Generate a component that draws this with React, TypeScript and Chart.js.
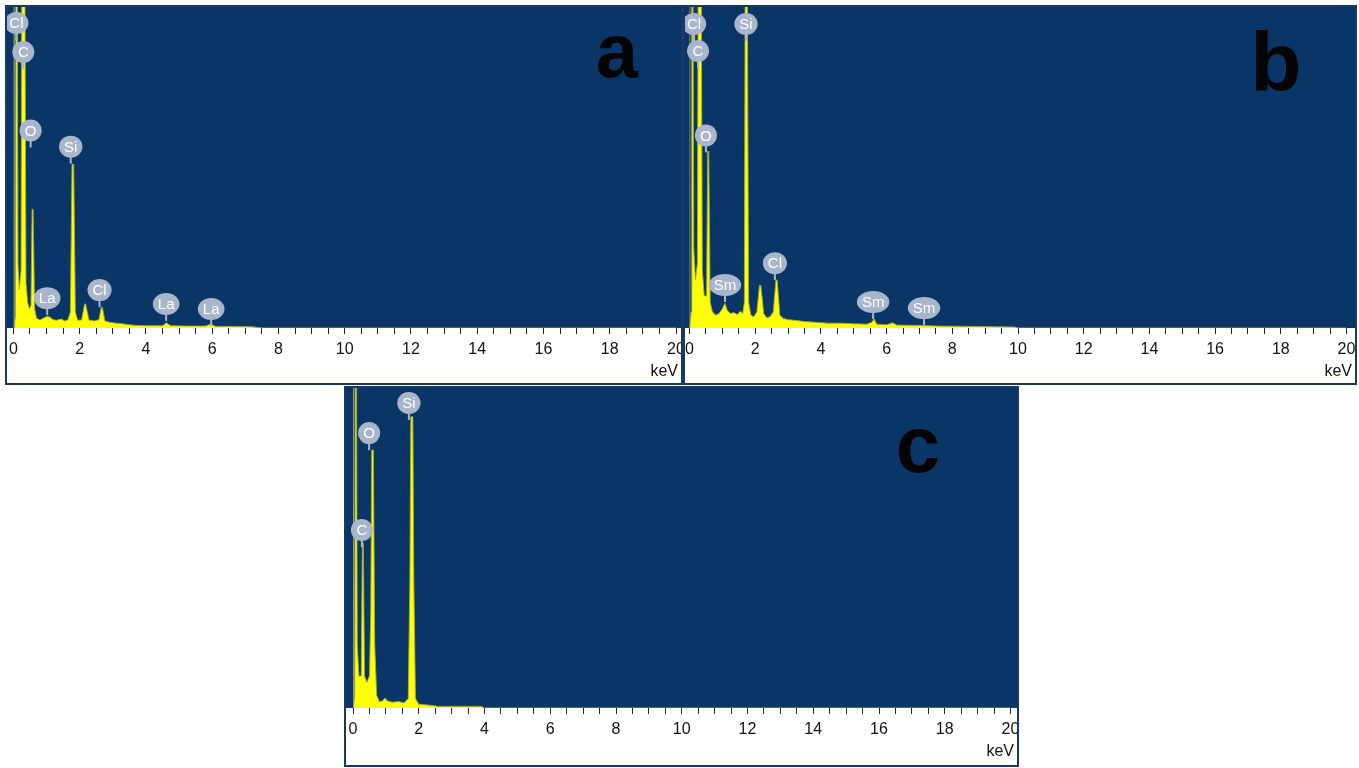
import React, { useEffect, useRef } from "react";
import { Chart, registerables } from "chart.js";

Chart.register(...registerables);

// ---------- data ----------
const tickLabels = ["0", "2", "4", "6", "8", "10", "12", "14", "16", "18", "20"];
const axisUnit = "keV";

// Panel a
const aEnergy = [0, 0.02, 0.06, 0.08, 0.11, 0.14, 0.18, 0.23, 0.26, 0.34, 0.38, 0.43, 0.48, 0.53, 0.565, 0.595, 0.64, 0.7, 0.8, 0.9, 1.0, 1.1, 1.2, 1.3, 1.45, 1.55, 1.65, 1.72, 1.77, 1.82, 1.87, 1.94, 2.06, 2.15, 2.18, 2.28, 2.45, 2.58, 2.655, 2.685, 2.76, 2.9, 3.1, 3.3, 3.5, 3.7, 4.0, 4.5, 4.62, 4.75, 5.2, 5.8, 5.95, 6.1, 6.5, 7.2, 7.5, 20];
const aCounts = [0, 0, 4, 130, 130, 20, 12, 18, 130, 130, 14, 8, 6, 7, 37, 37, 6, 3, 2.5, 3, 3.6, 3.4, 2.6, 2.4, 2.8, 2.2, 2.6, 5, 51, 51, 5, 2.4, 2.5, 7.5, 7.5, 2.5, 2.2, 2.6, 6.5, 6.5, 2.2, 1.8, 1.5, 1.3, 1.0, 0.8, 0.7, 0.7, 1.6, 0.7, 0.6, 0.6, 1.2, 0.5, 0.5, 0.4, 0, 0];
const aZeroEnergy = [0.02, 0.02];
const aZeroCounts = [0, 130];
const aLabelNames = ["Cl", "C", "O", "Si", "La", "Cl", "La", "La"];
const aLabelEnergy = [0.09, 0.3, 0.52, 1.73, 1.02, 2.6, 4.61, 5.97];
const aLabelHeight = [95, 86, 61.5, 56.5, 9.3, 11.8, 7.5, 5.9];

// Panel b
const bEnergy = [0, 0.05, 0.07, 0.1, 0.13, 0.18, 0.24, 0.27, 0.35, 0.39, 0.45, 0.52, 0.555, 0.585, 0.63, 0.7, 0.8, 0.9, 1.0, 1.08, 1.15, 1.25, 1.35, 1.45, 1.55, 1.62, 1.67, 1.7, 1.75, 1.8, 1.87, 1.95, 2.05, 2.13, 2.17, 2.26, 2.35, 2.45, 2.55, 2.63, 2.67, 2.75, 2.85, 3.0, 3.2, 3.5, 3.8, 4.2, 4.6, 5.0, 5.4, 5.55, 5.62, 5.7, 6.0, 6.19, 6.3, 7.0, 7.5, 8.5, 9.9, 10.0, 20];
const bCounts = [0, 5, 130, 130, 25, 15, 20, 130, 130, 18, 10, 10, 55, 55, 8, 5, 4, 4.5, 6, 7.7, 5.5, 4.5, 4.8, 4.2, 5.2, 4.5, 8, 130, 130, 8, 4, 3.5, 5, 13.3, 13.3, 4.5, 3.2, 3.5, 5, 14.9, 14.9, 4, 3, 2.6, 2.4, 2.0, 1.8, 1.5, 1.5, 1.3, 1.2, 1.8, 2.8, 1.2, 1.0, 1.6, 0.9, 0.8, 0.6, 0.5, 0.3, 0, 0];
const bZeroEnergy = [0, 0];
const bZeroCounts = [0, 130];
const bLabelNames = ["Cl", "C", "O", "Si", "Sm", "Cl", "Sm", "Sm"];
const bLabelEnergy = [0.14, 0.26, 0.5, 1.72, 1.08, 2.6, 5.59, 7.14];
const bLabelHeight = [94.7, 86.3, 60, 94.7, 13.4, 20.2, 8.1, 6.2];

// Panel c
const cEnergy = [0, 0.05, 0.07, 0.1, 0.13, 0.18, 0.25, 0.285, 0.315, 0.35, 0.42, 0.5, 0.54, 0.57, 0.62, 0.66, 0.72, 0.8, 0.9, 0.97, 1.05, 1.2, 1.4, 1.55, 1.68, 1.73, 1.76, 1.82, 1.85, 1.9, 2.0, 2.2, 2.4, 2.6, 3.9, 4.0, 20];
const cCounts = [0, 3, 130, 130, 20, 10, 10, 51.5, 51.5, 10, 8, 10, 30, 80.6, 80.6, 20, 4, 2, 2.2, 3.1, 2.2, 1.8, 2, 1.6, 3, 40, 91, 91, 40, 3, 1.2, 1.0, 0.8, 0.5, 0.5, 0, 0];
const cZeroEnergy = [0.01, 0.01];
const cZeroCounts = [0, 130];
const cLabelNames = ["C", "O", "Si"];
const cLabelEnergy = [0.27, 0.49, 1.7];
const cLabelHeight = [55.6, 85.9, 95.3];

// ---------- styles ----------
const BLUE = "#0a3567";
const FRAME = "#183866";
const YELLOW = "#ffff00";
const OUTLINE = "rgba(160,170,60,0.9)";
const LABEL_BG = "#a9b5ca";
const FONT = "'Liberation Sans', Arial, sans-serif";

const decorPlugin = {
  id: "decor",
  beforeDraw(chart: any) {
    const { ctx, chartArea, width, height } = chart;
    ctx.save();
    ctx.fillStyle = "#ffffff";
    ctx.fillRect(0, 0, width, height);
    ctx.fillStyle = BLUE;
    ctx.fillRect(0, 0, width, chartArea.bottom);
    ctx.restore();
  },
  afterDatasetsDraw(chart: any, _args: any, opts: any) {
    const { ctx } = chart;
    const xs = chart.scales.x;
    const ys = chart.scales.y;
    ctx.save();
    (opts.names || []).forEach((name: string, i: number) => {
      const px = xs.getPixelForValue(opts.energy[i]);
      const py = ys.getPixelForValue(opts.height[i]);
      ctx.font = `15px ${FONT}`;
      const tw = ctx.measureText(name).width;
      const ry = 11;
      const rx = Math.max(11, tw / 2 + 5);
      ctx.strokeStyle = LABEL_BG;
      ctx.lineWidth = 2;
      ctx.beginPath();
      ctx.moveTo(px, py + ry - 1);
      ctx.lineTo(px, py + ry + 6);
      ctx.stroke();
      ctx.fillStyle = LABEL_BG;
      ctx.beginPath();
      ctx.ellipse(px, py, rx, ry, 0, 0, Math.PI * 2);
      ctx.fill();
      ctx.fillStyle = "#ffffff";
      ctx.textAlign = "center";
      ctx.textBaseline = "middle";
      ctx.fillText(name, px, py + 1);
    });
    ctx.restore();
  },
  afterDraw(chart: any, _args: any, opts: any) {
    const { ctx, chartArea, width } = chart;
    ctx.save();
    ctx.fillStyle = "#111111";
    ctx.font = `16px ${FONT}`;
    ctx.textAlign = "right";
    ctx.textBaseline = "middle";
    ctx.fillText(axisUnit, width - 3, chartArea.bottom + 44);
    if (opts.letter) {
      ctx.fillStyle = "#050505";
      ctx.font = `bold ${opts.letter.size}px ${FONT}`;
      ctx.textAlign = "center";
      ctx.textBaseline = "alphabetic";
      ctx.fillText(opts.letter.text, opts.letter.x, opts.letter.y);
    }
    ctx.restore();
  },
};

type PanelProps = {
  left: number;
  top: number;
  width: number;
  height: number;
  axisHeight: number;
  padLeft: number;
  padRight: number;
  energy: number[];
  counts: number[];
  zeroEnergy: number[];
  zeroCounts: number[];
  names: string[];
  labelEnergy: number[];
  labelHeight: number[];
  letter: { text: string; x: number; y: number; size: number };
};

function Panel(p: PanelProps) {
  const ref = useRef<HTMLCanvasElement | null>(null);
  const cw = p.width - 4;
  const ch = p.height - 4;
  useEffect(() => {
    if (!ref.current) return;
    const spectrum = p.energy.map((e, i) => ({ x: e, y: p.counts[i] }));
    const zero = p.zeroEnergy.map((e, i) => ({ x: e, y: p.zeroCounts[i] }));
    const chart = new Chart(ref.current, {
      type: "line",
      data: {
        datasets: [
          {
            data: zero,
            borderColor: "#8f9a86",
            borderWidth: 1.5,
            pointRadius: 0,
            fill: false,
          },
          {
            data: spectrum,
            borderColor: OUTLINE,
            borderWidth: 1,
            backgroundColor: YELLOW,
            pointRadius: 0,
            tension: 0,
            fill: "origin",
          },
        ],
      },
      options: {
        animation: false,
        responsive: false,
        devicePixelRatio: 1,
        events: [],
        layout: { padding: { left: p.padLeft, right: p.padRight, top: 0, bottom: 0 } },
        plugins: {
          legend: { display: false },
          tooltip: { enabled: false },
          decor: {
            names: p.names,
            energy: p.labelEnergy,
            height: p.labelHeight,
            letter: p.letter,
          },
        } as any,
        scales: {
          x: {
            type: "linear",
            min: 0,
            max: 20,
            afterFit: (scale: any) => {
              scale.height = p.axisHeight;
              scale.paddingLeft = 0;
              scale.paddingRight = 0;
            },
            border: { display: false },
            grid: {
              display: true,
              drawOnChartArea: false,
              drawTicks: true,
              tickLength: 6,
              tickColor: "#222222",
              tickWidth: 1,
            },
            ticks: {
              stepSize: 0.5,
              maxTicksLimit: 100,
              autoSkip: false,
              maxRotation: 0,
              minRotation: 0,
              includeBounds: false,
              padding: 6,
              color: "#111111",
              font: { family: FONT, size: 16 },
              callback: (value: any) => {
                const v = Number(value);
                const lbl = tickLabels.find((t) => Math.abs(Number(t) - v) < 1e-9);
                return lbl ?? "";
              },
            },
          },
          y: {
            type: "linear",
            min: 0,
            max: 100,
            display: false,
          },
        },
      } as any,
      plugins: [decorPlugin as any],
    });
    return () => chart.destroy();
  }, []);
  return (
    <div
      style={{
        position: "absolute",
        left: p.left,
        top: p.top,
        width: p.width,
        height: p.height,
        border: `2px solid ${FRAME}`,
        boxSizing: "border-box",
        background: "#fff",
      }}
    >
      <canvas ref={ref} width={cw} height={ch} style={{ display: "block", width: cw, height: ch }} />
    </div>
  );
}

export default function App() {
  return (
    <div style={{ position: "absolute", left: 0, top: 0, width: 1359, height: 768, background: "#fff" }}>
      <Panel
        left={5}
        top={5}
        width={678}
        height={380}
        axisHeight={55}
        padLeft={6.4}
        padRight={5}
        energy={aEnergy}
        counts={aCounts}
        zeroEnergy={aZeroEnergy}
        zeroCounts={aZeroCounts}
        names={aLabelNames}
        labelEnergy={aLabelEnergy}
        labelHeight={aLabelHeight}
        letter={{ text: "a", x: 610, y: 70, size: 76 }}
      />
      <Panel
        left={683}
        top={5}
        width={674}
        height={380}
        axisHeight={55}
        padLeft={4.5}
        padRight={8.5}
        energy={bEnergy}
        counts={bCounts}
        zeroEnergy={bZeroEnergy}
        zeroCounts={bZeroCounts}
        names={bLabelNames}
        labelEnergy={bLabelEnergy}
        labelHeight={bLabelHeight}
        letter={{ text: "b", x: 591, y: 84, size: 84 }}
      />
      <Panel
        left={344}
        top={386}
        width={675}
        height={381}
        axisHeight={57}
        padLeft={7}
        padRight={6.5}
        energy={cEnergy}
        counts={cCounts}
        zeroEnergy={cZeroEnergy}
        zeroCounts={cZeroCounts}
        names={cLabelNames}
        labelEnergy={cLabelEnergy}
        labelHeight={cLabelHeight}
        letter={{ text: "c", x: 572, y: 84, size: 80 }}
      />
    </div>
  );
}
